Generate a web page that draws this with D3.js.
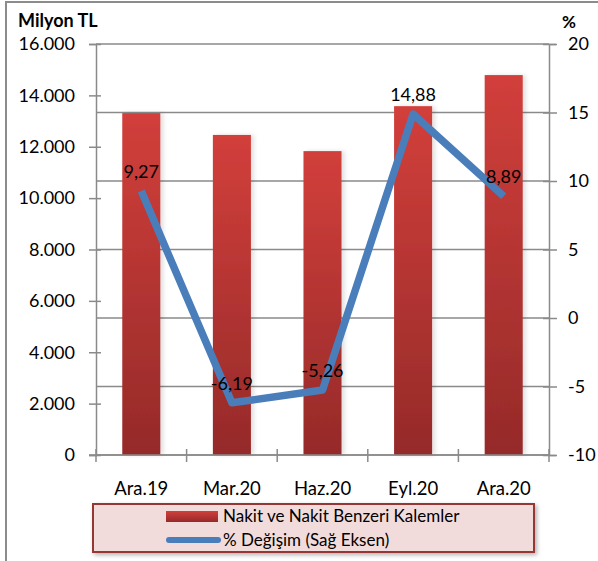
<!DOCTYPE html>
<html>
<head>
<meta charset="utf-8">
<script src="https://cdn.jsdelivr.net/npm/d3@7"></script>
<style>
  html, body { margin: 0; padding: 0; background: #fff; }
  svg { display: block; font-family: Lato, "Open Sans", sans-serif; }
</style>
</head>
<body>
<svg id="chart" width="598" height="561"></svg>
<script>
const categories = ["Ara.19", "Mar.20", "Haz.20", "Eyl.20", "Ara.20"];
const cashValues = [13310, 12460, 11830, 13580, 14790];
const pctValues = [9.27, -6.19, -5.26, 14.88, 8.89];
const pctLabels = ["9,27", "-6,19", "-5,26", "14,88", "8,89"];
const leftTicks = [0, 2000, 4000, 6000, 8000, 10000, 12000, 14000, 16000];
const rightTicks = [-10, -5, 0, 5, 10, 15, 20];
const barSeriesName = "Nakit ve Nakit Benzeri Kalemler";
const lineSeriesName = "% Değişim (Sağ Eksen)";

const svg = d3.select("#chart");
const X0 = 96, X1 = 549, Y0 = 44, Y1 = 455;
const axisColor = "#8a8a8a";

// outer border
svg.append("rect").attr("x", 6).attr("y", 2).attr("width", 700).attr("height", 700)
  .attr("fill", "none").attr("stroke", "#8c8c8c").attr("stroke-width", 2);

const x = d3.scaleBand().domain(categories).range([X0, X1]).paddingInner(0.58).paddingOuter(0.29);
const xc = d3.scaleBand().domain(categories).range([X0, X1]);
const yL = d3.scaleLinear().domain([0, 16000]).range([Y1, Y0]);
const yR = d3.scaleLinear().domain([-10, 20]).range([Y1, Y0]);

const fmt = d => d3.format(",")(d).replace(/,/g, ".");
const fmtR = d => String(d);

// gradient
const defs = svg.append("defs");
const g = defs.append("linearGradient").attr("id", "barGrad").attr("x1", 0).attr("y1", 0).attr("x2", 0).attr("y2", 1);
g.append("stop").attr("offset", "0%").attr("stop-color", "#d23f3b");
g.append("stop").attr("offset", "100%").attr("stop-color", "#952a29");
const f = defs.append("filter").attr("id", "shadow").attr("x", "-20%").attr("y", "-20%").attr("width", "140%").attr("height", "140%");
f.append("feDropShadow").attr("dx", 2).attr("dy", 2).attr("stdDeviation", 2).attr("flood-color", "#000").attr("flood-opacity", 0.3);
const fb = defs.append("filter").attr("id", "barShadow").attr("x", "-30%").attr("y", "-5%").attr("width", "160%").attr("height", "110%");
fb.append("feDropShadow").attr("dx", 3).attr("dy", 0).attr("stdDeviation", 2).attr("flood-color", "#000").attr("flood-opacity", 0.12);

// gridlines (right axis)
svg.append("g").selectAll("line").data(rightTicks).join("line")
  .attr("x1", X0).attr("x2", X1).attr("y1", d => yR(d)).attr("y2", d => yR(d))
  .attr("stroke", axisColor).attr("stroke-width", 1.3);

// bars
svg.append("g").selectAll("rect").data(cashValues).join("rect")
  .attr("x", (d, i) => x(categories[i]))
  .attr("width", x.bandwidth())
  .attr("y", d => yL(d))
  .attr("height", d => Y1 - yL(d))
  .attr("fill", "url(#barGrad)")
  .attr("filter", "url(#barShadow)");

// left axis
const leftAxis = svg.append("g").attr("transform", `translate(${X0},0)`)
  .call(d3.axisLeft(yL).tickValues(leftTicks).tickFormat(fmt).tickSize(7).tickPadding(14));
leftAxis.select(".domain").attr("stroke", axisColor).attr("stroke-width", 1.5);
leftAxis.selectAll(".tick line").attr("stroke", axisColor).attr("stroke-width", 1.5).attr("x2", -7).attr("x1", 5);
leftAxis.selectAll(".tick text").attr("font-size", 18).attr("fill", "#000").attr("font-family", "Lato");

// right axis
const rightAxis = svg.append("g").attr("transform", `translate(${X1},0)`)
  .call(d3.axisRight(yR).tickValues(rightTicks).tickFormat(fmtR).tickSize(7).tickPadding(12));
rightAxis.select(".domain").attr("stroke", axisColor).attr("stroke-width", 1.5);
rightAxis.selectAll(".tick line").attr("stroke", axisColor).attr("stroke-width", 1.5).attr("x1", -6).attr("x2", 8);
rightAxis.selectAll(".tick text").attr("font-size", 18).attr("fill", "#000").attr("font-family", "Lato");

// bottom axis
const bottom = svg.append("g").attr("transform", `translate(0,${Y1})`)
  .call(d3.axisBottom(xc).tickSize(0).tickPadding(27));
bottom.select(".domain").remove();
bottom.append("line").attr("x1", X0 - 7).attr("x2", X1).attr("y1", 0).attr("y2", 0)
  .attr("stroke", axisColor).attr("stroke-width", 1.5);
bottom.selectAll(".tick text").attr("font-size", 18.5).attr("fill", "#000").attr("font-family", "Lato");
const bounds = categories.map(c => xc(c)).concat([X1]);
bottom.selectAll(".bt").data(bounds).join("line")
  .attr("x1", d => d).attr("x2", d => d).attr("y1", -6).attr("y2", 7)
  .attr("stroke", axisColor).attr("stroke-width", 1.5);

// line
const lineGen = d3.line()
  .x((d, i) => xc(categories[i]) + xc.bandwidth() / 2)
  .y(d => yR(d));
svg.append("path").datum(pctValues).attr("d", lineGen)
  .attr("fill", "none").attr("stroke", "#4a7ebb").attr("stroke-width", 7.5)
  .attr("stroke-linejoin", "round").attr("stroke-linecap", "butt");

// line labels
svg.append("g").selectAll("text").data(pctValues).join("text")
  .attr("x", (d, i) => xc(categories[i]) + xc.bandwidth() / 2)
  .attr("y", d => yR(d) - 13)
  .attr("text-anchor", "middle")
  .attr("font-size", 18).attr("fill", "#000")
  .text((d, i) => pctLabels[i]);

// axis titles
svg.append("text").attr("x", 18).attr("y", 27).attr("font-size", 18).attr("font-weight", "bold")
  .attr("fill", "#000").text("Milyon TL");
svg.append("text").attr("x", 562).attr("y", 28).attr("font-size", 17).attr("font-weight", "bold")
  .attr("fill", "#000").text("%");

// legend
const lg = svg.append("g");
lg.append("rect").attr("x", 93).attr("y", 504).attr("width", 441).attr("height", 48)
  .attr("fill", "#f2dcdb").attr("stroke", "#953735").attr("stroke-width", 2).attr("filter", "url(#shadow)");
lg.append("rect").attr("x", 166).attr("y", 511).attr("width", 52).attr("height", 11).attr("fill", "url(#barGrad)");
lg.append("text").attr("x", 223).attr("y", 522).attr("font-size", 17).attr("fill", "#000").text(barSeriesName);
lg.append("line").attr("x1", 169).attr("x2", 218).attr("y1", 540).attr("y2", 540)
  .attr("stroke", "#4a7ebb").attr("stroke-width", 6).attr("stroke-linecap", "round");
lg.append("text").attr("x", 223).attr("y", 546).attr("font-size", 17).attr("fill", "#000").text(lineSeriesName);
</script>
</body>
</html>
